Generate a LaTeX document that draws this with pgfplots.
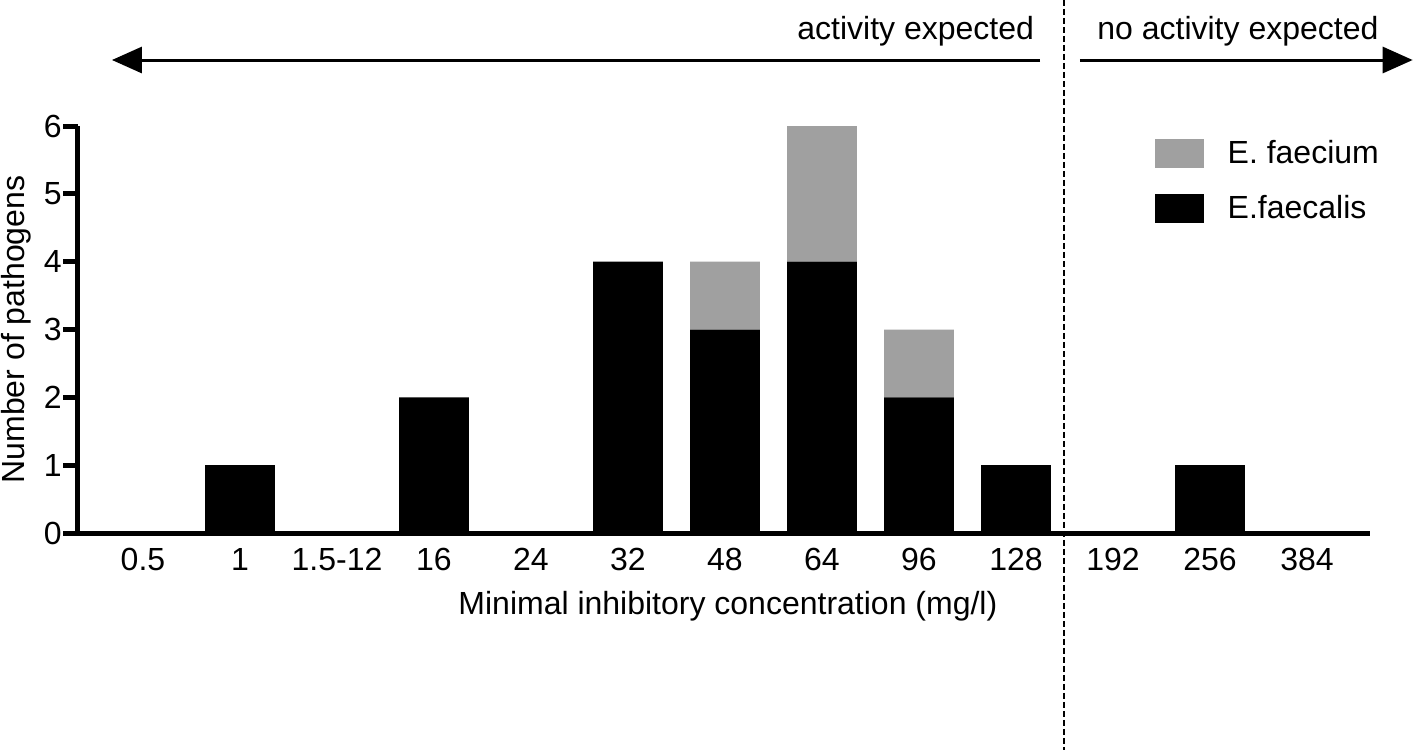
\documentclass[border=0pt]{standalone}
\usepackage{pgfplots}
\pgfplotsset{compat=1.18}
\usepackage{fontspec}
\setmainfont{Liberation Sans}
\usetikzlibrary{arrows.meta}
\definecolor{fgray}{HTML}{A0A0A0}
\newcommand\fs{\fontsize{16}{18}\selectfont}
\begin{document}
\begin{tikzpicture}
\begin{axis}[
  at={(0pt,0pt)}, anchor=south west,
  scale only axis, width=646pt, height=203.5pt,
  xmin=-0.67, xmax=12.65, ymin=0, ymax=6,
  ybar stacked, bar width=0.72,
  axis x line*=bottom, axis y line*=left,
  axis line style={line width=2.5pt},
  xtick={0,...,12},
  xticklabels={0.5,1,1.5-12,16,24,32,48,64,96,128,192,256,384},
  ytick={0,...,6},
  tick align=outside, major tick length=7.5pt,
  x tick style={draw=none},
  y tick style={draw=none},
  ticklabel style={font=\fs},
  yticklabel style={inner sep=0.5pt},
  xticklabel style={inner sep=0pt, yshift=0pt},
  /pgf/number format/assume math mode=true,
  xlabel={Minimal inhibitory concentration (mg/l)},
  ylabel={Number of pathogens},
  label style={font=\fs},
  xlabel style={at={(axis description cs:0.503,-0.179)}, anchor=center},
  ylabel style={at={(axis description cs:-0.0476,0.5)}, anchor=center},
  clip=false,
  reverse legend,
  legend style={at={(axis cs:10.43,5.81)}, anchor=north west, draw=none, fill=none,
    inner sep=0pt, outer sep=0pt, row sep=13pt, column sep=12pt,
    font=\fs,
    nodes={inner sep=0pt}},
  legend cell align=left,
]
\addplot[fill=black, draw=none,
  legend image code/.code={\fill[black] (0pt,-7.25pt) rectangle (24.5pt,7.25pt);}]
  coordinates {(0,0) (1,1) (2,0) (3,2) (4,0) (5,4) (6,3) (7,4) (8,2) (9,1) (10,0) (11,1) (12,0)};
\addlegendentry{E.faecalis}
\addplot[fill=fgray, draw=none,
  legend image code/.code={\fill[fgray] (0pt,-7.25pt) rectangle (24.5pt,7.25pt);}]
  coordinates {(0,0) (1,0) (2,0) (3,0) (4,0) (5,0) (6,1) (7,2) (8,1) (9,0) (10,0) (11,0) (12,0)};
\addlegendentry{E. faecium}

\pgfplotsinvokeforeach{0,...,6}{
  \draw[line width=2.5pt] (axis cs:-0.67,#1) -- ++(-7.5pt,0pt);
}
\draw[line width=1pt, dash pattern=on 3pt off 1.5pt] (axis cs:9.5,7.86) -- (axis cs:9.5,-3.2);
\draw[line width=1.5pt, -{Triangle[length=15pt, width=13pt]}] (axis cs:9.25,6.973) -- (axis cs:-0.32,6.973);
\draw[line width=1.5pt, -{Triangle[length=15pt, width=13pt]}] (axis cs:9.66,6.973) -- (axis cs:13.09,6.973);
\node[anchor=base east, inner sep=0pt, font=\fs] at (axis cs:9.19,7.27) {activity expected};
\node[anchor=base west, inner sep=0pt, font=\fs] at (axis cs:9.835,7.27) {no activity expected};
\end{axis}
\pgfresetboundingbox
\useasboundingbox (-39pt,-108.5pt) rectangle (670pt,266.5pt);
\end{tikzpicture}
\end{document}
